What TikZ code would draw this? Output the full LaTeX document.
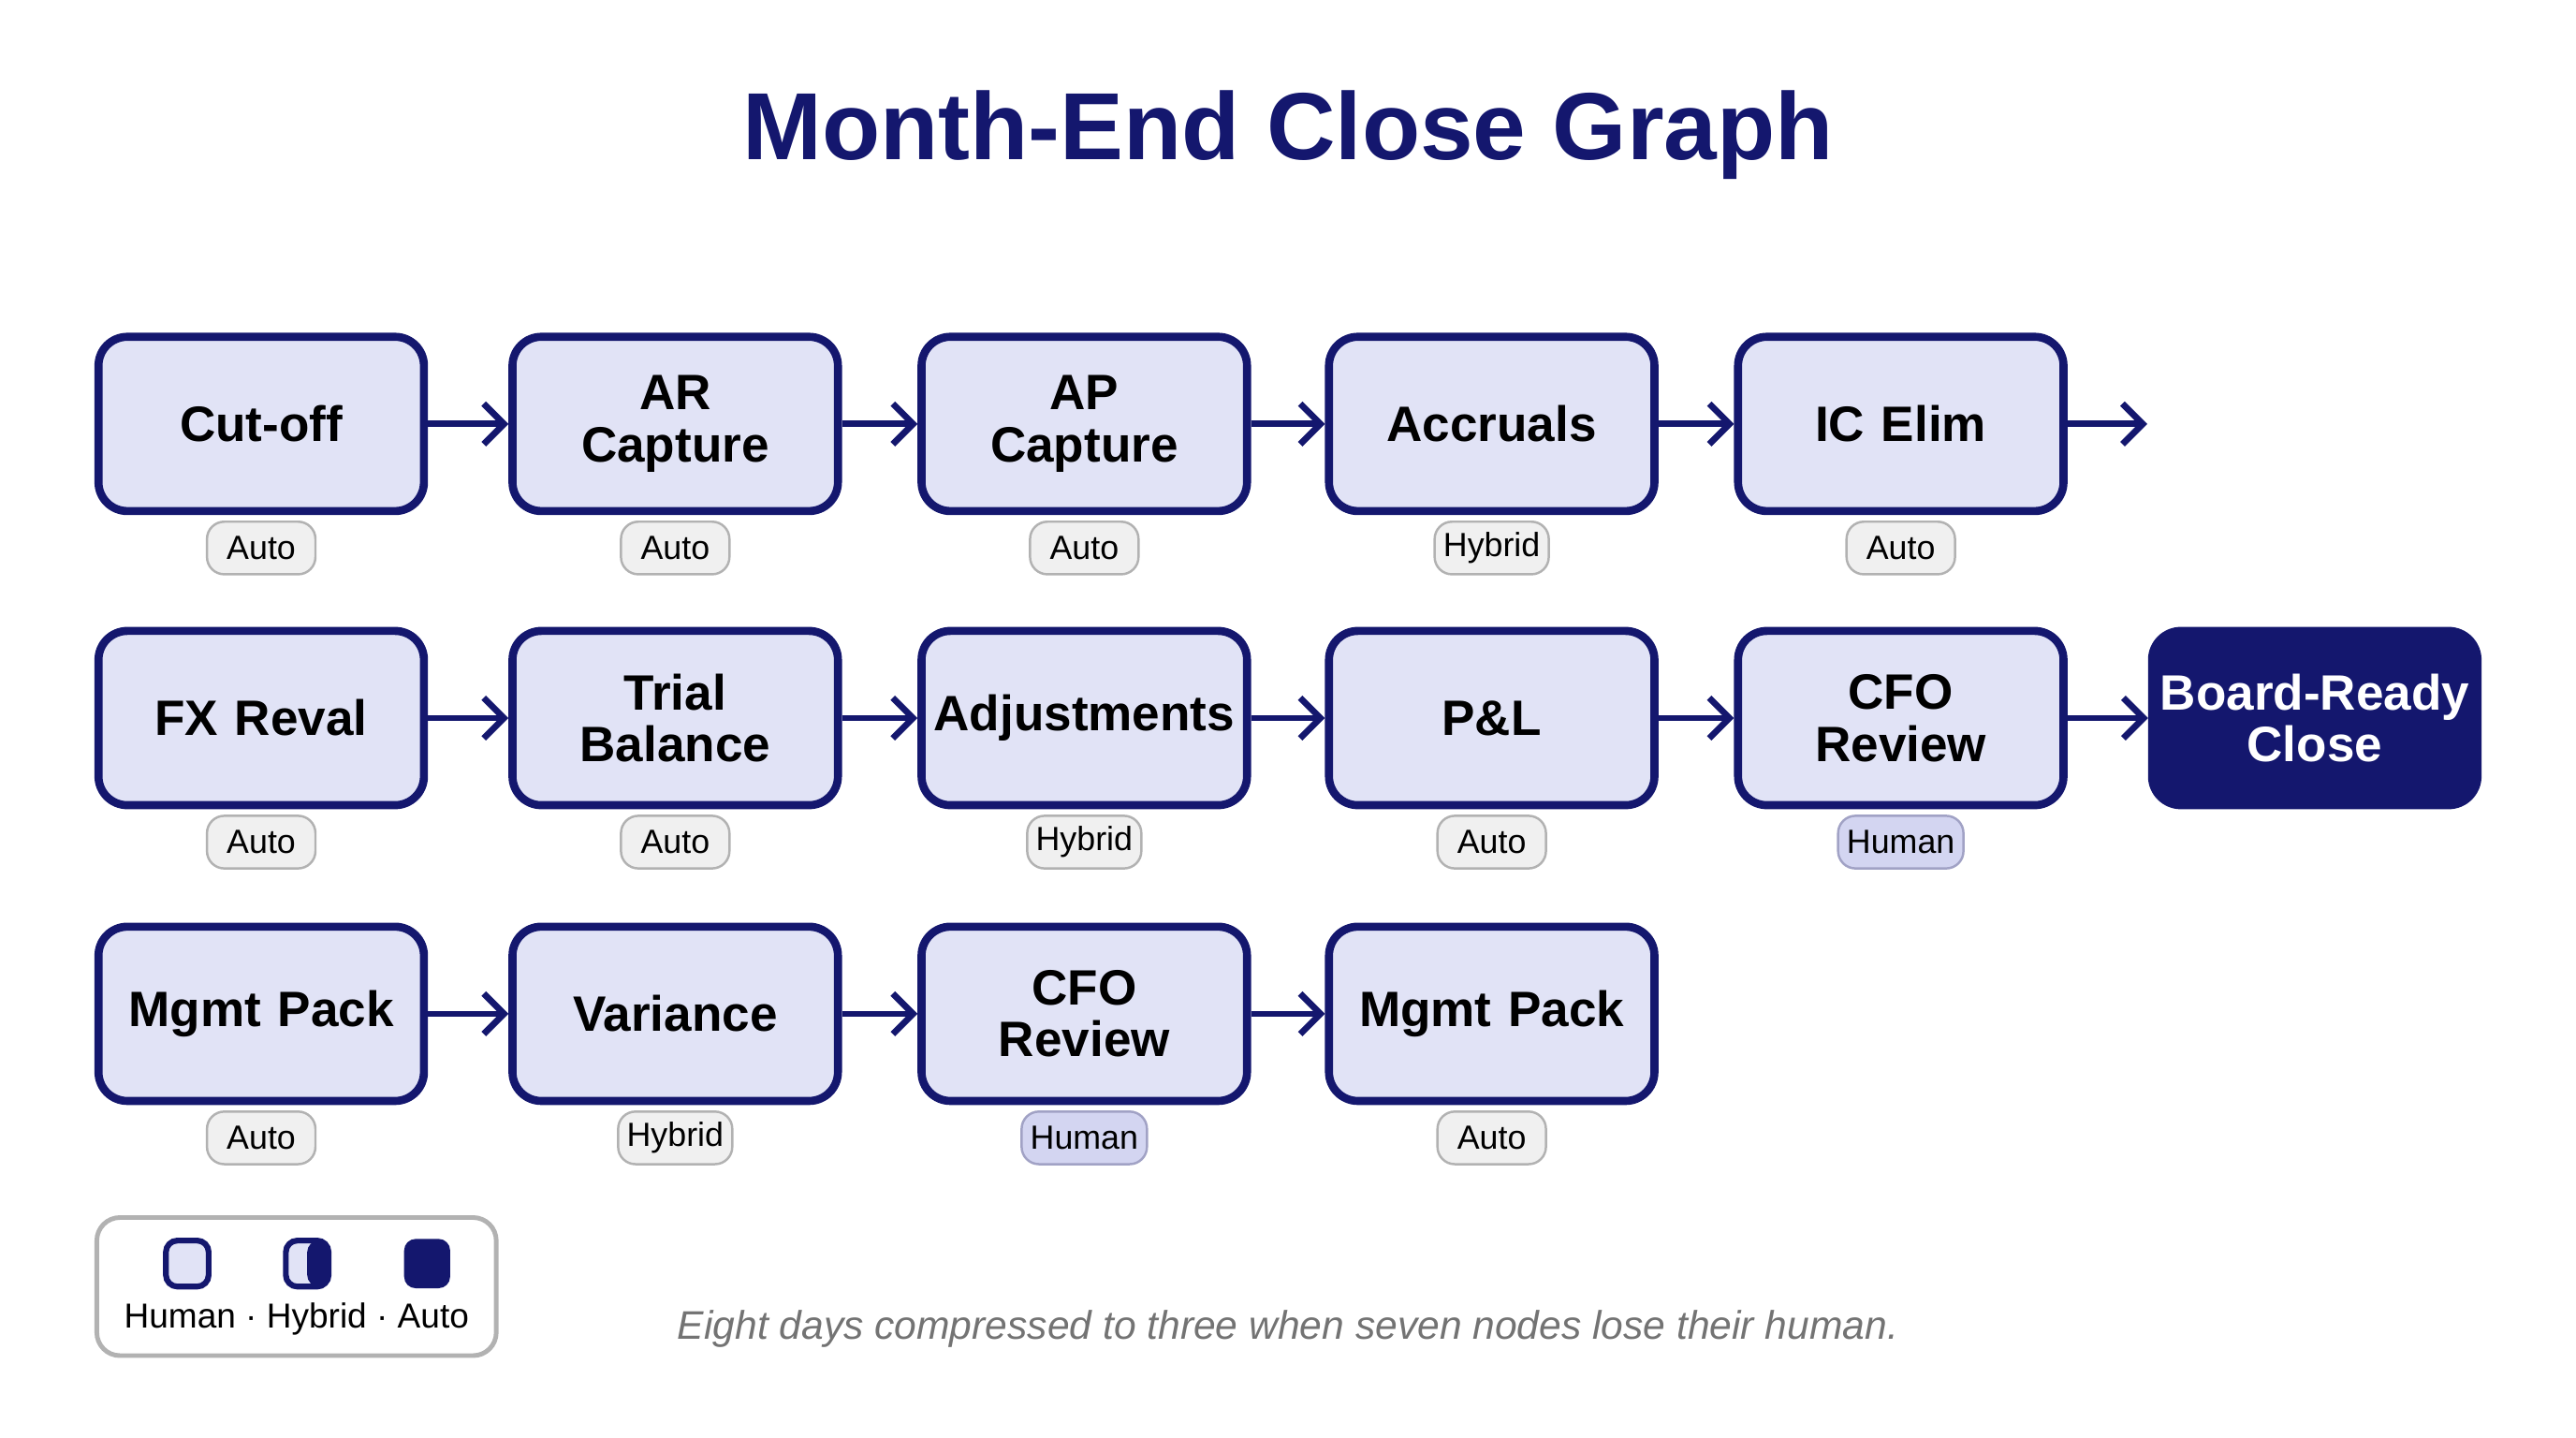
\documentclass[tikz,border=0pt]{standalone}
\usepackage{fontspec}
\setmainfont{Liberation Sans}
\usepackage{tikz}
\usetikzlibrary{arrows.meta, positioning}
\definecolor{navy}{HTML}{14176E}
\definecolor{lav}{HTML}{E1E3F6}
\definecolor{tagfill}{HTML}{F0F0F0}
\definecolor{humfill}{HTML}{D3D5F1}
\tikzset{
    stage/.style={rectangle, rounded corners=5pt, minimum width=1.98cm, minimum height=1.06cm, inner sep=1pt, text width=1.9cm, align=center, draw=navy, line width=1.4pt, fill=lav, font=\bfseries\fontsize{8.6}{9}\selectfont},
    final/.style={stage, fill=navy, text=white},
    tag/.style={rectangle, rounded corners=3pt, minimum width=0.66cm, minimum height=0.32cm, inner sep=1.5pt, draw=black!30, fill=tagfill, font=\fontsize{5.8}{6}\selectfont},
    human/.style={tag, fill=humfill, draw=navy!40},
    arrow/.style={navy, line width=1.1pt, -{Straight Barb[length=3.5pt,width=7pt]}},
}
\begin{document}
\begin{tikzpicture}[x=0.01cm,y=-0.01cm]
  \useasboundingbox (0,0) rectangle (1568,875);
  \node[font=\bfseries\fontsize{16.5}{17}\selectfont, text=navy] (title) at (784,82) {Month-End Close Graph};

  % row 1
  \node[stage] (cut)  at (159,258)  {Cut-off};
  \node[stage] (ar)   at (411,258)  {AR\\Capture};
  \node[stage] (ap)   at (660,258)  {AP\\Capture};
  \node[stage] (acc)  at (908,258)  {Accruals};
  \node[stage] (ic)   at (1157,258) {IC Elim};
  \coordinate (icout) at (1307,258);
  % row 2
  \node[stage] (fx)   at (159,437)  {FX Reval};
  \node[stage] (tb)   at (411,437)  {Trial\\Balance};
  \node[stage] (adj)  at (660,437)  {Adjustments};
  \node[stage] (pl)   at (908,437)  {P\&L};
  \node[stage] (cfo)  at (1157,437) {CFO\\Review};
  \node[final] (board) at (1409,437) {Board-Ready\\Close};
  % row 3
  \node[stage] (mgmt) at (159,617)  {Mgmt Pack};
  \node[stage] (var)  at (411,617)  {Variance};
  \node[stage] (cfob) at (660,617)  {CFO\\Review};
  \node[stage] (mgmtb) at (908,617) {Mgmt Pack};

  \foreach \n/\t in {cut/Auto, ar/Auto, ap/Auto, acc/Hybrid, ic/Auto,
                     fx/Auto, tb/Auto, adj/Hybrid, pl/Auto,
                     mgmt/Auto, var/Hybrid, mgmtb/Auto}
    \node[tag] (\n-tag) at ([yshift=-0.2cm]\n.south) {\t};
  \node[human] (cfo-tag) at ([yshift=-0.2cm]cfo.south) {Human};
  \node[human] (cfob-tag) at ([yshift=-0.2cm]cfob.south) {Human};

  \foreach \a/\b in {cut/ar, ar/ap, ap/acc, acc/ic, ic/icout,
                     fx/tb, tb/adj, adj/pl, pl/cfo, cfo/board,
                     mgmt/var, var/cfob, cfob/mgmtb}
    \draw[arrow] (\a) -- (\b);

  % legend
  \node[draw=black!30, rounded corners=4pt, line width=0.8pt, minimum width=2.43cm, minimum height=0.84cm] (legend) at (180.5,783) {};
  \node[rectangle, rounded corners=2pt, draw=navy, line width=1pt, fill=lav, minimum width=0.26cm, minimum height=0.28cm] (lh) at (114,769) {};
  \node[rectangle, rounded corners=2pt, draw=navy, line width=1pt, fill=lav, minimum width=0.26cm, minimum height=0.28cm,
        path picture={\fill[navy] (path picture bounding box.north) rectangle (path picture bounding box.south east);}] (lm) at (187,769) {};
  \node[rectangle, rounded corners=2pt, fill=navy, minimum width=0.28cm, minimum height=0.3cm] (la) at (260,769) {};
  \node[font=\fontsize{6}{7}\selectfont] (ltext) at (180.5,803) {Human · Hybrid · Auto};

  \node[font=\itshape\fontsize{6.9}{8}\selectfont, text=black!55] (note) at (784,809) {Eight days compressed to three when seven nodes lose their human.};
\end{tikzpicture}
\end{document}
